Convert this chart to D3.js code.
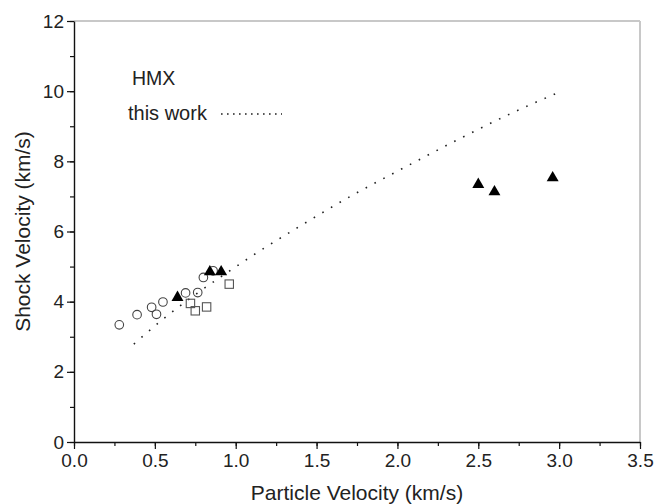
<!DOCTYPE html>
<html>
<head>
<meta charset="utf-8">
<script src="https://cdn.jsdelivr.net/npm/d3@7"></script>
<style>
  body { margin: 0; background: #fff; }
  svg text { font-family: "Liberation Sans", Arial, sans-serif; fill: #222; }
</style>
</head>
<body>
<svg id="chart" width="656" height="504"></svg>
<script>
// data (km/s)
var circleU  = [0.28, 0.39, 0.48, 0.51, 0.55, 0.69, 0.765, 0.80, 0.86];
var circleUs = [3.34, 3.63, 3.84, 3.64, 3.99, 4.25, 4.26, 4.69, 4.88];

var squareU  = [0.72, 0.75, 0.82, 0.96];
var squareUs = [3.95, 3.74, 3.85, 4.50];

var triU  = [0.64, 0.84, 0.91, 2.50, 2.60, 2.96];
var triUs = [4.12, 4.85, 4.85, 7.34, 7.13, 7.53];

// "this work" fit, points picked along the dotted curve
var fitU  = [0.37, 0.54, 0.75, 0.97, 1.13, 1.40, 1.72, 2.05, 2.37, 2.70, 3.00];
var fitUs = [2.79, 3.46, 4.20, 4.90, 5.39, 6.16, 7.03, 7.84, 8.61, 9.36, 9.97];

var xTicks = [0, 0.5, 1.0, 1.5, 2.0, 2.5, 3.0, 3.5];
var yTicks = [0, 2, 4, 6, 8, 10, 12];

var pLeft = 74, pRight = 640, pTop = 21, pBottom = 442;

var svg = d3.select("#chart");

var x = d3.scaleLinear().domain([0, 3.5]).range([pLeft, pRight]);
var y = d3.scaleLinear().domain([0, 12]).range([pBottom, pTop]);

// frame: grey top / right
svg.append("line")
   .attr("x1", pLeft).attr("x2", pRight).attr("y1", pTop).attr("y2", pTop)
   .style("stroke", "#c8c8c8").style("stroke-width", 2);
svg.append("line")
   .attr("x1", pRight).attr("x2", pRight).attr("y1", pTop).attr("y2", pBottom)
   .style("stroke", "#c8c8c8").style("stroke-width", 2);

// minor ticks
var xMinor = d3.range(0, 3.51, 0.25);
var yMinor = d3.range(0, 12.01, 1);
svg.append("g").attr("transform", "translate(0," + pBottom + ")")
   .call(d3.axisBottom(x).tickValues(xMinor).tickSize(4).tickFormat(""))
   .call(function(g) { g.select(".domain").remove(); });
svg.append("g").attr("transform", "translate(" + pLeft + ",0)")
   .call(d3.axisLeft(y).tickValues(yMinor).tickSize(4).tickFormat(""))
   .call(function(g) { g.select(".domain").remove(); });

// major axes
var xAxis = svg.append("g").attr("transform", "translate(0," + pBottom + ")")
   .call(d3.axisBottom(x).tickValues(xTicks).tickSize(7).tickPadding(5).tickSizeOuter(0)
         .tickFormat(d3.format(".1f")));
var yAxis = svg.append("g").attr("transform", "translate(" + pLeft + ",0)")
   .call(d3.axisLeft(y).tickValues(yTicks).tickSize(7).tickPadding(3).tickSizeOuter(0)
         .tickFormat(d3.format("d")));

svg.selectAll(".tick line").style("stroke", "#111").style("stroke-width", 1.2);
svg.selectAll(".domain").style("stroke", "#111").style("stroke-width", 1.4);
xAxis.selectAll("text").style("font-size", "19px");
yAxis.selectAll("text").style("font-size", "19px");

// axis titles
svg.append("text")
   .attr("x", (pLeft + pRight) / 2).attr("y", 500)
   .attr("text-anchor", "middle").style("font-size", "21px")
   .text("Particle Velocity (km/s)");
svg.append("text")
   .attr("transform", "translate(30," + (pTop + pBottom) / 2 + ") rotate(-90)")
   .attr("text-anchor", "middle").style("font-size", "21px")
   .text("Shock Velocity (km/s)");

// dotted fit
var line = d3.line()
   .x(function(d) { return x(d[0]); })
   .y(function(d) { return y(d[1]); })
   .curve(d3.curveMonotoneX);
svg.append("path")
   .datum(d3.zip(fitU, fitUs))
   .attr("d", line)
   .style("fill", "none").style("stroke", "#222")
   .style("stroke-width", 1.6).style("stroke-dasharray", "1.6,8.4");

// circles
svg.selectAll("circle.c")
   .data(d3.zip(circleU, circleUs))
   .enter().append("circle").attr("class", "c")
   .attr("cx", function(d) { return x(d[0]); })
   .attr("cy", function(d) { return y(d[1]); })
   .attr("r", 4.3)
   .style("fill", "none").style("stroke", "#444").style("stroke-width", 1.1);

// squares
svg.selectAll("rect.s")
   .data(d3.zip(squareU, squareUs))
   .enter().append("rect").attr("class", "s")
   .attr("x", function(d) { return x(d[0]) - 4.2; })
   .attr("y", function(d) { return y(d[1]) - 4.2; })
   .attr("width", 8.4).attr("height", 8.4)
   .style("fill", "none").style("stroke", "#555").style("stroke-width", 1.1);

// filled triangles
var tri = d3.symbol().type(d3.symbolTriangle).size(62);
svg.selectAll("path.t")
   .data(d3.zip(triU, triUs))
   .enter().append("path").attr("class", "t")
   .attr("d", tri)
   .attr("transform", function(d) { return "translate(" + x(d[0]) + "," + y(d[1]) + ")"; })
   .style("fill", "#000");

// legend
svg.append("text").attr("x", 132).attr("y", 85).style("font-size", "19.5px").text("HMX");
svg.append("text").attr("x", 128).attr("y", 120).style("font-size", "20px").text("this work");
svg.append("line")
   .attr("x1", 221).attr("x2", 282).attr("y1", 114).attr("y2", 114)
   .style("stroke", "#222").style("stroke-width", 1.6).style("stroke-dasharray", "1.6,4.4");
</script>
</body>
</html>
